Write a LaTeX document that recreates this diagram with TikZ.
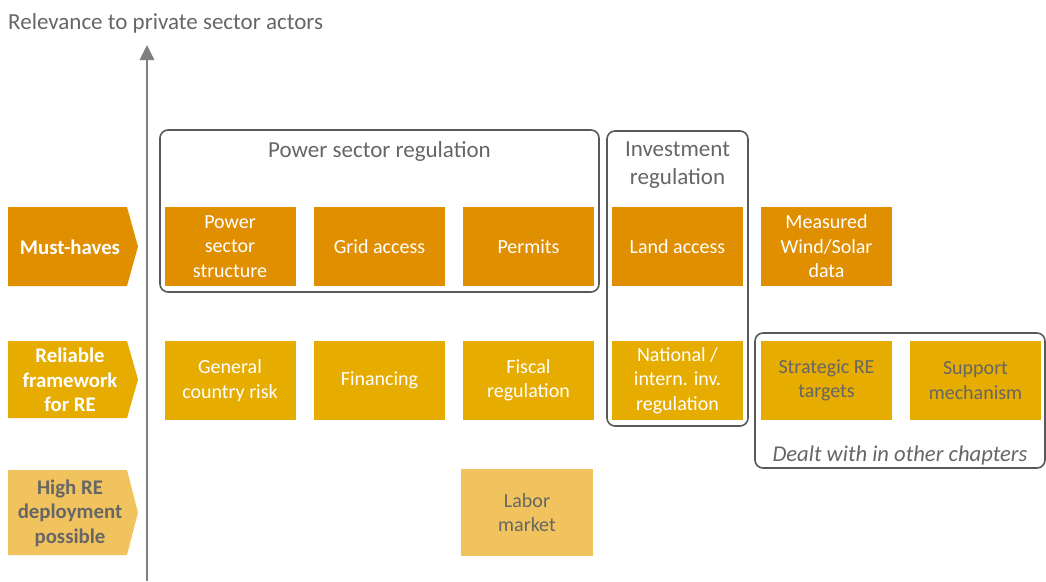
\documentclass[tikz,border=0pt]{standalone}
\usepackage{fontspec}
\setmainfont{Carlito}
\usepackage{xcolor}
\usetikzlibrary{arrows.meta}
\definecolor{mustc}{HTML}{E08F00}
\definecolor{relc}{HTML}{E6AC00}
\definecolor{highc}{HTML}{F0C35E}
\definecolor{axisc}{HTML}{7F7F7F}
\definecolor{framec}{HTML}{595959}
\definecolor{txtc}{HTML}{666666}

\begin{document}
\begin{tikzpicture}[x=1pt,y=-1pt,>={Triangle[width=14pt,length=15pt]},
  font=\fontsize{20}{24.5}\selectfont,
  cell/.style={minimum width=131pt,minimum height=79pt,inner sep=0pt,align=center,text=white},
  frame/.style={draw=framec,line width=1.6pt,rounded corners=8pt,inner sep=0pt},
  head/.style={text=txtc,align=center,inner sep=0pt,font=\fontsize{23}{28.5}\selectfont}]
  \useasboundingbox (0,0) rectangle (1046,581);

  % axis
  \coordinate (axbot) at (147,581);
  \coordinate (axtop) at (147,45);
  \draw[->,axisc,line width=2.6pt] (axbot) -- (axtop);
  \node[head,anchor=west] (axlab) at (8,23) {Relevance to private sector actors};

  % row labels
  \foreach \ya/\yb/\col/\tcol/\nm/\lab in {207/286/mustc/white/must/{Must-haves},
      341/418/relc/white/rel/{Reliable\\framework\\for RE},
      470/555/highc/txtc/high/{High RE\\deployment\\possible}}{
    \fill[\col] (8,\ya) -- (127,\ya) -- (138,{(\ya+\yb)/2}) -- (127,\yb) -- (8,\yb) -- cycle;
    \node[align=center,text=\tcol,font=\fontsize{20.8}{24.5}\selectfont\bfseries] (\nm) at (70,{(\ya+\yb)/2+0.5}) {\lab};
  }

  % boxes
  \foreach \x/\y/\col/\tcol/\nm/\lab in {230/246.5/mustc/white/pss/{Power\\sector\\structure},
      379.5/246.5/mustc/white/grid/{Grid access},
      528.5/246.5/mustc/white/perm/{Permits},
      677.5/246.5/mustc/white/land/{Land access},
      826.5/246.5/mustc/white/meas/{Measured\\Wind/Solar\\data},
      230/380.5/relc/white/risk/{General\\country risk},
      379.5/380.5/relc/white/fin/{Financing},
      528.5/380.5/relc/white/fisc/{Fiscal\\regulation},
      677.5/380.5/relc/white/inv/{National /\\intern. inv.\\regulation},
      826.5/380.5/relc/txtc/targ/{Strategic RE\\targets},
      975.5/380.5/relc/txtc/supp/{Support\\mechanism}}{
    \node[cell,fill=\col,text=\tcol] (\nm) at (\x,\y) {\lab};
  }
  \node[cell,fill=highc,text=txtc,minimum width=132pt,minimum height=87pt] (labor) at (527,512.5) {Labor\\market};

  % groups
  \node[frame,minimum width=439pt,minimum height=162pt] (psr) at (379.5,211) {};
  \node[head,below=12pt] (psrlab) at (psr.north) {Power sector regulation};
  \node[frame,minimum width=141pt,minimum height=295pt] (ir) at (677.5,278.5) {};
  \node[head,below=11pt] (irlab) at (ir.north) {Investment\\regulation};
  \node[head,above=3pt,font=\fontsize{22.6}{28}\selectfont\itshape] (otherlab) at (900,468) {Dealt with in other chapters};
  \node[frame,minimum width=290pt,minimum height=135pt] (other) at (900,400.5) {};
\end{tikzpicture}
\end{document}
